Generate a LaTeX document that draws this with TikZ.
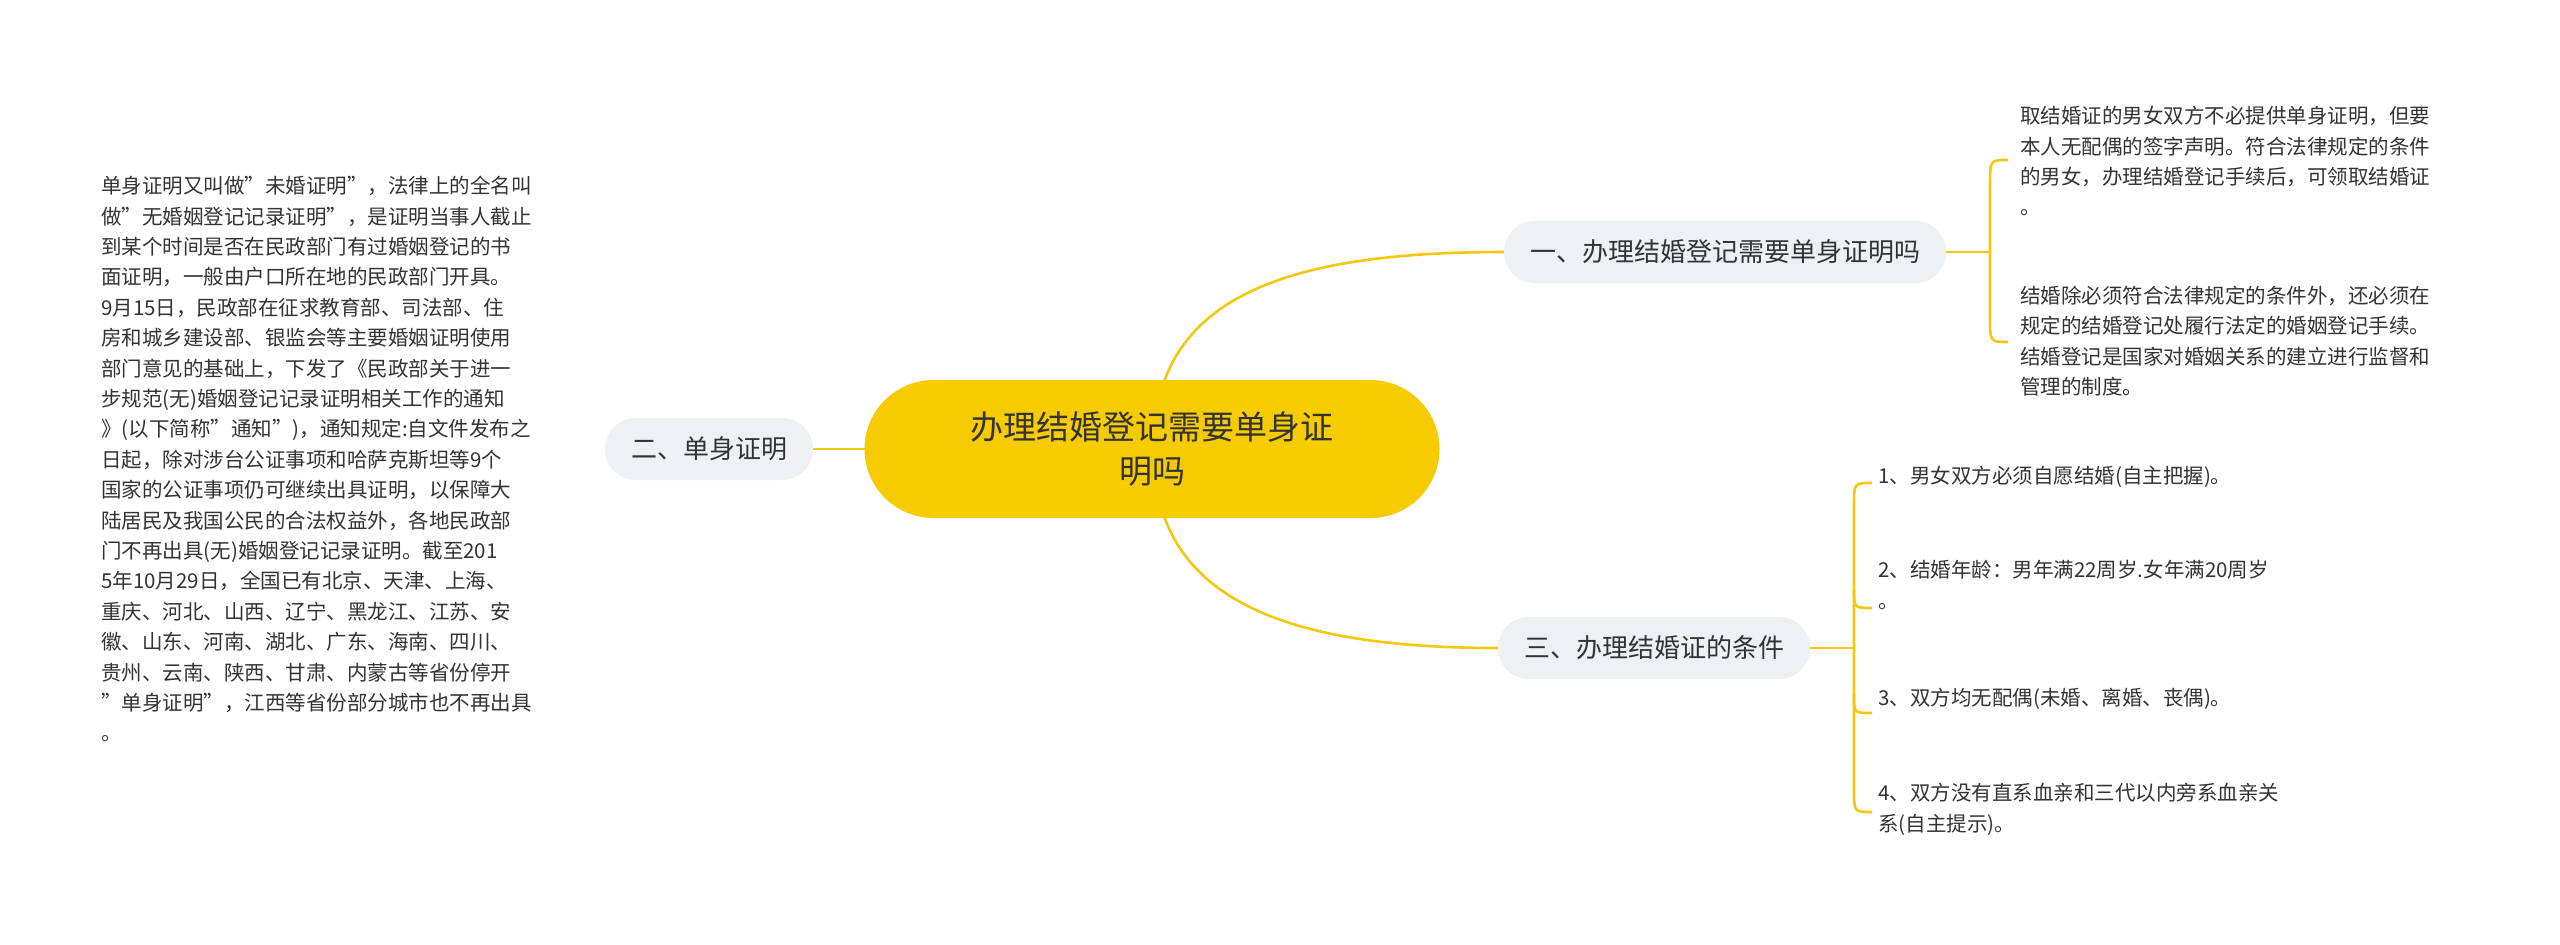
\documentclass[tikz,border=0pt]{standalone}
\usepackage{fontspec}
\setmainfont{Noto Sans CJK SC}
\begin{document}
\begin{tikzpicture}[x=1pt,y=-1pt,
  con/.style={draw=linec,line width=2.6pt},
  sub/.style={fill=subf,rounded corners=31pt,minimum height=62pt,inner xsep=26pt,font=\fontsize{26}{30}\selectfont,text=txt},
  leaf/.style={anchor=north west,align=left,inner sep=0pt,font=\fontsize{20.5}{30.4}\selectfont,text=txt}]
\definecolor{linec}{HTML}{F2C811}
\definecolor{mainf}{HTML}{F6CB00}
\definecolor{subf}{HTML}{EEF1F4}
\definecolor{txt}{HTML}{333333}
\useasboundingbox (0,0) rectangle (2560,945);
\fill[white] (0,0) rectangle (2560,945);
% connectors
\coordinate (c1) at (1164,382);
\coordinate (c3) at (1164,516);
\node[sub] (n1) at (1725,252) {一、办理结婚登记需要单身证明吗};
\node[sub] (n3) at (1654,648) {三、办理结婚证的条件};
\node[sub] (n2) at (709,449) {二、单身证明};
\draw[con] (c1) .. controls (1200,280) and (1330,252) .. (n1.west);
\draw[con] (c3) .. controls (1200,618) and (1330,648) .. (n3.west);
\draw[con] (n2.east) -- (880,449);
\node[fill=mainf,rounded corners=69pt,minimum width=575pt,minimum height=138pt,align=center,font=\fontsize{33}{44}\selectfont,text=txt] (m) at (1152,449) {办理结婚登记需要单身证\\明吗};
% leaves of n1
\node[leaf] (a1) at (2020,106) {取结婚证的男女双方不必提供单身证明，但要\\本人无配偶的签字声明。符合法律规定的条件\\的男女，办理结婚登记手续后，可领取结婚证\\。};
\node[leaf] (a2) at (2020,286) {结婚除必须符合法律规定的条件外，还必须在\\规定的结婚登记处履行法定的婚姻登记手续。\\结婚登记是国家对婚姻关系的建立进行监督和\\管理的制度。};
\coordinate (b1) at (1990,252);
\coordinate (a1e) at (2008,160);
\coordinate (a2e) at (2008,342);
\draw[con] (n1.east) -- (b1);
\draw[con] (a1e) .. controls (1990,160) .. (1990,185) -- (1990,317) .. controls (1990,342) .. (a2e);
% leaves of n3
\node[leaf] (d1) at (1878,466) {1、男女双方必须自愿结婚(自主把握)。};
\node[leaf] (d2) at (1878,560) {2、结婚年龄：男年满22周岁.女年满20周岁\\。};
\node[leaf] (d3) at (1878,688) {3、双方均无配偶(未婚、离婚、丧偶)。};
\node[leaf] (d4) at (1878,783) {4、双方没有直系血亲和三代以内旁系血亲关\\系(自主提示)。};
\coordinate (e1) at (1872,483);
\coordinate (e2) at (1872,608);
\coordinate (e3) at (1872,713);
\coordinate (e4) at (1872,812);
\draw[con] (n3.east) -- (1854,648);
\draw[con] (e1) .. controls (1854,483) .. (1854,505) -- (1854,790) .. controls (1854,812) .. (e4);
\draw[con] (1854,590) .. controls (1854,608) .. (e2);
\draw[con] (1854,695) .. controls (1854,713) .. (e3);
% left leaf
\node[leaf,anchor=north west] (l) at (101,176) {单身证明又叫做"未婚证明"，法律上的全名叫\\做"无婚姻登记记录证明"，是证明当事人截止\\到某个时间是否在民政部门有过婚姻登记的书\\面证明，一般由户口所在地的民政部门开具。\\9月15日，民政部在征求教育部、司法部、住\\房和城乡建设部、银监会等主要婚姻证明使用\\部门意见的基础上，下发了《民政部关于进一\\步规范(无)婚姻登记记录证明相关工作的通知\\》(以下简称"通知")，通知规定:自文件发布之\\日起，除对涉台公证事项和哈萨克斯坦等9个\\国家的公证事项仍可继续出具证明，以保障大\\陆居民及我国公民的合法权益外，各地民政部\\门不再出具(无)婚姻登记记录证明。截至201\\5年10月29日，全国已有北京、天津、上海、\\重庆、河北、山西、辽宁、黑龙江、江苏、安\\徽、山东、河南、湖北、广东、海南、四川、\\贵州、云南、陕西、甘肃、内蒙古等省份停开\\"单身证明"，江西等省份部分城市也不再出具\\。};
\end{tikzpicture}
\end{document}
